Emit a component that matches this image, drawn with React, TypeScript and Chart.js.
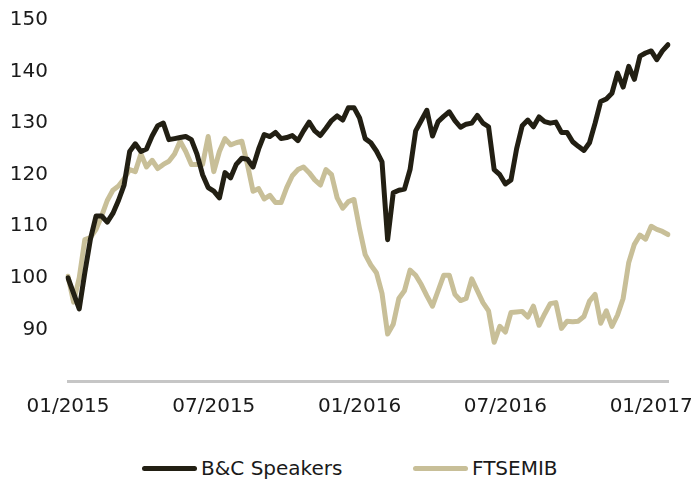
import React, { useEffect, useRef } from "react";
import { Chart, registerables } from "chart.js";

Chart.register(...registerables);

// Weekly observations, starting 02/01/2015 (index 0)
const bcSpeakers: number[] = [
  100, 97, 94, 101, 107.5, 112, 112, 110.8, 112.5, 115,
  118, 124.5, 126, 124.5, 125, 127.5, 129.5, 130, 126.8, 127,
  127.2, 127.4, 126.8, 124, 120, 117.5, 116.8, 115.5, 120.4, 119.4,
  122, 123.2, 123, 121.5, 125, 127.8, 127.4, 128.2, 127, 127.2,
  127.6, 126.6, 128.5, 130.2, 128.5, 127.6, 129, 130.5, 131.4, 130.6,
  133, 133, 131, 127, 126.2, 124.6, 122.5, 107.4, 116.5, 117,
  117.2, 121, 128.5, 130.5, 132.5, 127.5, 130.3, 131.3, 132.2, 130.5,
  129.2, 129.8, 130, 131.5, 130, 129.3, 121, 120, 118.2, 119,
  125, 129.5, 130.6, 129.3, 131.2, 130.3, 130, 130.2, 128.2, 128.2,
  126.4, 125.5, 124.7, 126.2, 130, 134.2, 134.7, 135.8, 139.7, 137,
  141, 138.5, 143, 143.6, 144, 142.3, 144, 145.2,
];

const ftseMib: number[] = [
  100.3, 95.3, 100, 107.4, 107.8, 109.4, 112, 115, 117, 117.8,
  119.2, 121, 120.6, 124, 121.5, 122.8, 121.2, 122, 122.6, 124,
  126.5, 124.5, 122, 122, 122, 127.4, 120.6, 124.5, 127, 125.8,
  126.2, 126.5, 122, 116.8, 117.3, 115.3, 116, 114.6, 114.6, 117.5,
  119.8, 121, 121.5, 120.4, 119, 118, 121, 120, 115.5, 113.5,
  114.8, 115.2, 109.5, 104.5, 102.5, 101, 97, 89.1, 91, 96,
  97.5, 101.5, 100.5, 98.7, 96.5, 94.5, 97.5, 100.5, 100.5, 96.8,
  95.6, 96, 99.8, 97.5, 95.2, 93.6, 87.5, 90.6, 89.5, 93.3,
  93.4, 93.5, 92.4, 94.5, 90.8, 93, 95, 95.2, 90.2, 91.6,
  91.5, 91.6, 92.5, 95.5, 96.8, 91.2, 93.6, 90.6, 92.8, 96,
  103, 106.5, 108.3, 107.5, 110, 109.4, 109, 108.4,
];

const tickLabels: string[] = ["01/2015", "07/2015", "01/2016", "07/2016", "01/2017"];
const tickIndices: number[] = [0, 26, 52, 78, 104];

const seriesNames: string[] = ["B&C Speakers", "FTSEMIB"];
const seriesColors: string[] = ["#221f13", "#c8bf98"];

const categories: string[] = bcSpeakers.map((_, i) => {
  const d = new Date(Date.UTC(2015, 0, 2 + i * 7));
  return `${String(d.getUTCDate()).padStart(2, "0")}/${String(d.getUTCMonth() + 1).padStart(2, "0")}/${d.getUTCFullYear()}`;
});

const FONT = "'DejaVu Sans', Verdana, sans-serif";

export default function App() {
  const canvasRef = useRef<HTMLCanvasElement | null>(null);

  useEffect(() => {
    if (!canvasRef.current) return;
    const chart = new Chart(canvasRef.current, {
      type: "line",
      data: {
        labels: categories,
        datasets: [
          {
            label: seriesNames[0],
            data: bcSpeakers,
            borderColor: seriesColors[0],
            backgroundColor: seriesColors[0],
            borderWidth: 5,
            pointRadius: 0,
            borderJoinStyle: "round",
            borderCapStyle: "round",
            tension: 0,
          },
          {
            label: seriesNames[1],
            data: ftseMib,
            borderColor: seriesColors[1],
            backgroundColor: seriesColors[1],
            borderWidth: 5,
            pointRadius: 0,
            borderJoinStyle: "round",
            borderCapStyle: "round",
            tension: 0,
            order: 2,
          },
        ],
      },
      options: {
        responsive: false,
        animation: false,
        layout: { padding: { left: 0, right: 26, top: 20, bottom: 0 } },
        plugins: {
          legend: { display: false },
          tooltip: { enabled: false },
        },
        scales: {
          x: {
            type: "category",
            offset: false,
            grid: { display: false, drawTicks: false },
            border: { display: true, color: "#c6c6c6", width: 3 },
            ticks: {
              autoSkip: false,
              maxRotation: 0,
              padding: 14,
              color: "#1a1a1a",
              font: { family: FONT, size: 20 },
              callback: (_v: any, index: number) => {
                const k = tickIndices.indexOf(index);
                return k >= 0 ? tickLabels[k] : "";
              },
            },
            afterFit: (s: any) => {
              s.height = 49;
              s.paddingLeft = 0;
              s.paddingRight = 0;
            },
          },
          y: {
            min: 80,
            max: 150,
            grid: { display: false, drawTicks: false },
            border: { display: false },
            ticks: {
              stepSize: 10,
              padding: 20,
              color: "#1a1a1a",
              font: { family: FONT, size: 20 },
              callback: (v: any) => (Number(v) === 80 ? "" : String(v)),
            },
            afterFit: (s: any) => {
              s.width = 68;
              s.paddingTop = 0;
              s.paddingBottom = 0;
            },
          },
        },
      },
    });
    return () => chart.destroy();
  }, []);

  const legendItem = (i: number, left: number) => (
    <div
      key={i}
      style={{
        position: "absolute",
        left,
        top: 455,
        display: "flex",
        alignItems: "center",
        height: 26,
      }}
    >
      <span
        style={{
          display: "inline-block",
          width: 55,
          height: 5,
          borderRadius: 3,
          background: seriesColors[i],
          marginRight: 4,
        }}
      />
      <span style={{ fontFamily: FONT, fontSize: 20, color: "#1a1a1a", whiteSpace: "nowrap" }}>
        {seriesNames[i]}
      </span>
    </div>
  );

  return (
    <div
      style={{
        position: "absolute",
        left: 0,
        top: 0,
        width: 694,
        height: 483,
        background: "#ffffff",
        overflow: "hidden",
      }}
    >
      <canvas ref={canvasRef} width={694} height={430} style={{ display: "block" }} />
      {legendItem(0, 142)}
      {legendItem(1, 413)}
    </div>
  );
}
